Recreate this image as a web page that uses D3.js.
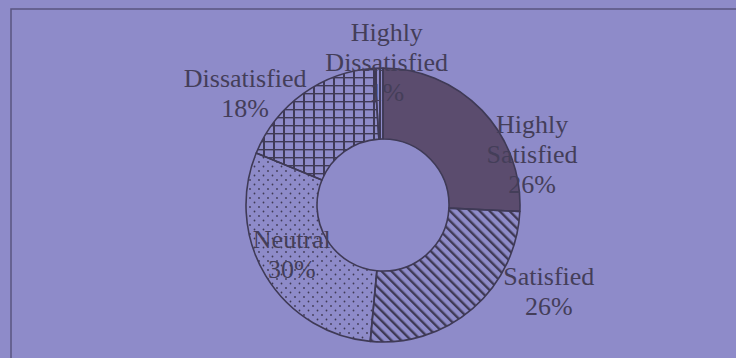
<!doctype html>
<html lang='en'>
<head>
    <meta charset='UTF-8'>
    <title>Satisfaction donut</title>
    <script src='https://cdn.jsdelivr.net/npm/d3@7/dist/d3.min.js'></script>
    <style>
        body { margin: 0; background: #8e8bc9; }
    </style>
</head>
<body>
    <div id='container-donut'></div>
    <script>
        let SVG_SIZE = { width: 736, height: 358 };
        let CENTER = { x: 383, y: 205 };
        let RADIUS = { outer: 137, inner: 66 };

        let CATEGORIES = ['Highly Satisfied', 'Satisfied', 'Neutral', 'Dissatisfied', 'Highly Dissatisfied'];
        let VALUES = [26, 26, 30, 18, 1];
        let LABEL_LINES = [['Highly', 'Satisfied'], ['Satisfied'], ['Neutral'], ['Dissatisfied'], ['Highly', 'Dissatisfied']];
        // excel "best fit" shifts, relative to the outer edge at mid angle
        let LABEL_SHIFT = [[50, 43], [76, -18], [26, -22], [-58, -1], [8, -6]];
        let FILLS = ['#5b4c6e', 'url(#pat-diag)', 'url(#pat-dots)', 'url(#pat-grid)', 'url(#pat-vert)'];

        let INK = '#3f3a56';

        function draw_donut() {
            let svg = d3.select('#container-donut').append('svg')
                .attr('width', SVG_SIZE.width).attr('height', SVG_SIZE.height);

            let defs = svg.append('defs');
            let diag = defs.append('pattern').attr('id', 'pat-diag')
                .attr('patternUnits', 'userSpaceOnUse').attr('width', 7).attr('height', 7)
                .attr('patternTransform', 'rotate(-45)');
            diag.append('rect').attr('x', 0).attr('y', 0).attr('width', 2.4).attr('height', 7).attr('fill', INK);

            let dots = defs.append('pattern').attr('id', 'pat-dots')
                .attr('patternUnits', 'userSpaceOnUse').attr('width', 9).attr('height', 9);
            dots.append('circle').attr('cx', 2).attr('cy', 2).attr('r', 0.9).attr('fill', INK);
            dots.append('circle').attr('cx', 6.5).attr('cy', 6.5).attr('r', 0.9).attr('fill', INK);

            let grid = defs.append('pattern').attr('id', 'pat-grid')
                .attr('patternUnits', 'userSpaceOnUse').attr('width', 10).attr('height', 8);
            grid.append('rect').attr('x', 0).attr('y', 0).attr('width', 2).attr('height', 8).attr('fill', INK);
            grid.append('rect').attr('x', 0).attr('y', 0).attr('width', 10).attr('height', 1.4).attr('fill', INK);

            let vert = defs.append('pattern').attr('id', 'pat-vert')
                .attr('patternUnits', 'userSpaceOnUse').attr('width', 4).attr('height', 4);
            vert.append('rect').attr('x', 0).attr('y', 0).attr('width', 2).attr('height', 4).attr('fill', INK);

            // plot area frame
            svg.append('path')
                .attr('d', 'M11,' + SVG_SIZE.height + 'L11,9L' + SVG_SIZE.width + ',9')
                .attr('fill', 'none').attr('stroke', '#5a5680').attr('stroke-width', 1.5);

            let g = svg.append('g').attr('transform', 'translate(' + CENTER.x + ',' + CENTER.y + ')');

            let pie = d3.pie().sort(null).value(function (d) { return d; });
            let arcs = pie(VALUES);
            let arc = d3.arc().innerRadius(RADIUS.inner).outerRadius(RADIUS.outer);
            let edgeArc = d3.arc().innerRadius(RADIUS.outer).outerRadius(RADIUS.outer);

            g.selectAll('path.slice')
                .data(arcs)
                .enter()
                .append('path')
                .attr('class', 'slice')
                .attr('d', arc)
                .attr('fill', function (d, i) { return FILLS[i]; })
                .attr('stroke', INK)
                .attr('stroke-width', 1.6)
                .attr('stroke-linejoin', 'round');

            let labels = g.append('g')
                .style('font-family', "'Liberation Serif', 'Times New Roman', serif")
                .style('font-size', '26px')
                .attr('fill', '#443e59')
                .attr('text-anchor', 'middle');
            arcs.forEach(function (a, i) {
                let c = edgeArc.centroid(a);
                let x = c[0] + LABEL_SHIFT[i][0];
                let y = c[1] + LABEL_SHIFT[i][1];
                let lines = LABEL_LINES[i].concat([VALUES[i] + '%']);
                let lh = 30;
                let t = labels.append('text').attr('x', x).attr('y', y);
                lines.forEach(function (s, k) {
                    t.append('tspan')
                        .attr('x', x)
                        .attr('y', y + (k - (lines.length - 1) / 2) * lh)
                        .attr('dy', '0.35em')
                        .text(s);
                });
            });
        }

        window.onload = function () {
            draw_donut();
        };
    </script>
</body>
</html>
